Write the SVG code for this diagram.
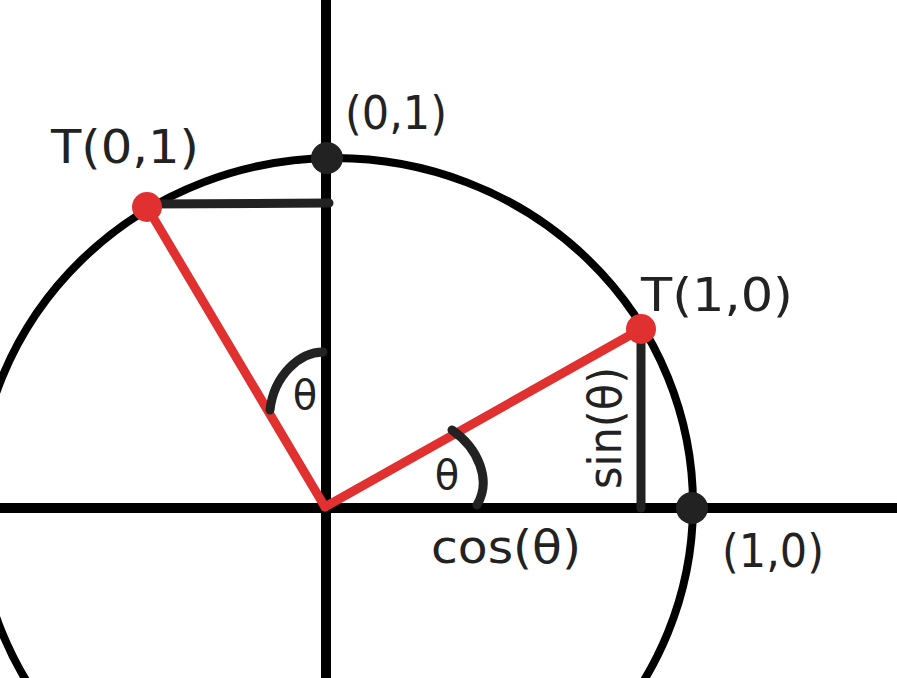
<svg xmlns="http://www.w3.org/2000/svg" width="897" height="678" viewBox="0 0 897 678">
<style>
.ax{stroke:#000;stroke-width:10;fill:none}
.circ{stroke:#000;stroke-width:8;fill:none}
.dk{stroke:#222;stroke-width:9;fill:none;stroke-linecap:round}
.red{stroke:#e03030;stroke-width:9;fill:none;stroke-linecap:round}
.lbl{font-family:"DejaVu Sans","Liberation Sans",sans-serif;fill:#222;font-size:46px}
.th{font-family:"DejaVu Sans","Liberation Sans",sans-serif;fill:#222;font-size:40px}
</style>
<rect width="897" height="678" fill="#fff"/>
<g id="connectors">
<line class="ax" x1="0" y1="508" x2="897" y2="508"/>
<line class="ax" x1="326" y1="0" x2="326" y2="678"/>
<ellipse class="circ" cx="335" cy="505" rx="358" ry="347"/>
<line class="dk" x1="147" y1="204" x2="329" y2="203"/>
<line class="dk" x1="641" y1="330" x2="641" y2="508"/>
<line class="red" x1="147" y1="207" x2="325" y2="507"/>
<line class="red" x1="641" y1="329" x2="325" y2="507"/>
<path class="dk" d="M323,352 C300,352 274,375 270,410"/>
<path class="dk" d="M452,430 C478,448 492,480 477,505"/>
</g>
<g id="p01">
<circle cx="327" cy="158" r="16" fill="#222"/>
<text class="lbl" x="396" y="129" text-anchor="middle" textLength="102" lengthAdjust="spacingAndGlyphs">(0,1)</text>
</g>
<g id="p10">
<circle cx="692" cy="508" r="16" fill="#222"/>
<text class="lbl" x="773" y="567" text-anchor="middle" textLength="102" lengthAdjust="spacingAndGlyphs">(1,0)</text>
</g>
<g id="t01">
<circle cx="147" cy="207" r="15" fill="#e03030"/>
<text class="lbl" x="125" y="163" text-anchor="middle" textLength="148" lengthAdjust="spacingAndGlyphs">T(0,1)</text>
</g>
<g id="t10">
<circle cx="641" cy="329" r="15" fill="#e03030"/>
<text class="lbl" x="717" y="311" text-anchor="middle" textLength="152" lengthAdjust="spacingAndGlyphs">T(1,0)</text>
</g>
<g id="cos">
<text class="lbl" x="506" y="563" text-anchor="middle" textLength="150" lengthAdjust="spacingAndGlyphs">cos(θ)</text>
</g>
<g id="sin">
<text class="lbl" transform="translate(621,428) rotate(-90)" x="0" y="0" text-anchor="middle" textLength="122" lengthAdjust="spacingAndGlyphs">sin(θ)</text>
</g>
<g id="theta1">
<text class="th" x="305" y="409" text-anchor="middle">θ</text>
</g>
<g id="theta2">
<text class="th" x="447" y="489" text-anchor="middle">θ</text>
</g>
</svg>
